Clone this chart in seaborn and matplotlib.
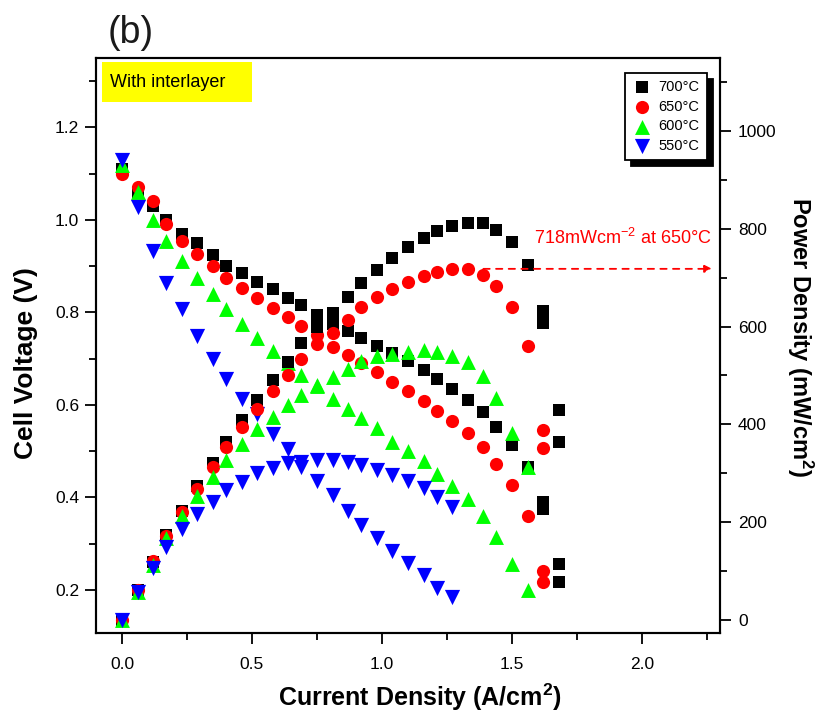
import matplotlib
matplotlib.use("Agg")
import matplotlib.pyplot as plt
from matplotlib.ticker import MultipleLocator, FormatStrFormatter
from matplotlib.patches import Rectangle
import seaborn as sns
import pandas as pd

# current density steps (A/cm2) used in all runs
cd = [0.00, 0.06, 0.12, 0.17, 0.23, 0.29, 0.35, 0.40, 0.46, 0.52,
      0.58, 0.64, 0.69, 0.75, 0.81, 0.87, 0.92, 0.98, 1.04, 1.10,
      1.16, 1.21, 1.27, 1.33, 1.39, 1.44, 1.50, 1.56, 1.62, 1.68]

# 700C  (two readings at the last two steps)
i_700 = cd[:28] + [1.62, 1.62, 1.68, 1.68]
v_700 = [1.11, 1.06, 1.03, 1.00, 0.97, 0.95, 0.925, 0.90, 0.885, 0.865,
         0.85, 0.83, 0.815, 0.795, 0.775, 0.76, 0.745, 0.728, 0.712, 0.695,
         0.675, 0.656, 0.634, 0.61, 0.585, 0.552, 0.514, 0.465,
         0.39, 0.375, 0.256, 0.217]
p_700 = [0, 61, 119, 173, 224, 274, 321, 365, 409, 450,
         491, 528, 566, 600, 628, 660, 689, 716, 740, 763,
         781, 796, 806, 812, 812, 798, 773, 726,
         631, 607, 429, 364]

# 650C
i_650 = cd[:28] + [1.62, 1.62]
v_650 = [1.10, 1.07, 1.04, 0.99, 0.955, 0.927, 0.90, 0.875, 0.853, 0.83,
         0.81, 0.79, 0.77, 0.75, 0.725, 0.707, 0.69, 0.67, 0.65, 0.63,
         0.608, 0.586, 0.565, 0.54, 0.508, 0.473, 0.426, 0.359,
         0.24, 0.218]
p_650 = [0, 62, 121, 172, 221, 268, 312, 354, 394, 432,
         468, 502, 534, 564, 587, 613, 640, 660, 677, 691,
         703, 712, 718, 718, 705, 683, 640, 560,
         389, 352]

# 600C
i_600 = cd[:28]
v_600 = [1.118, 1.06, 1.00, 0.955, 0.91, 0.875, 0.84, 0.807, 0.775, 0.745,
         0.716, 0.69, 0.665, 0.64, 0.612, 0.59, 0.572, 0.549, 0.52, 0.50,
         0.478, 0.45, 0.424, 0.396, 0.359, 0.315, 0.255, 0.20]
p_600 = [0, 58, 112, 167, 212, 254, 292, 327, 360, 390,
         415, 440, 460, 481, 497, 513, 530, 540, 543, 549,
         552, 547, 540, 527, 498, 455, 383, 312]

# 550C
i_550 = cd[:23]
v_550 = [1.13, 1.027, 0.933, 0.864, 0.807, 0.749, 0.70, 0.655, 0.612, 0.58,
         0.537, 0.505, 0.466, 0.435, 0.404, 0.37, 0.341, 0.313, 0.285, 0.258,
         0.233, 0.205, 0.185]
p_550 = [0, 57, 107, 150, 187, 216, 242, 265, 283, 301,
         311, 321, 323, 327, 327, 323, 317, 307, 296, 284,
         270, 251, 231]

labels = ["700°C", "650°C", "600°C", "550°C"]
colors = ["black", "red", "#00ff00", "blue"]
markers = ["s", "o", "^", "v"]
sizes = [85, 90, 115, 120]

peak_power = 718
arrow_from, arrow_to = 1.39, 2.27

runs = [(i_700, v_700, p_700), (i_650, v_650, p_650),
        (i_600, v_600, p_600), (i_550, v_550, p_550)]

sns.set_style("ticks")
plt.rcParams["font.family"] = ["Liberation Sans", "DejaVu Sans"]
plt.rcParams["mathtext.default"] = "regular"
plt.rcParams["text.color"] = "black"
plt.rcParams["axes.labelcolor"] = "black"
plt.rcParams["xtick.color"] = "black"
plt.rcParams["ytick.color"] = "black"

fig = plt.figure(figsize=(8.19, 7.17), dpi=100)
ax = fig.add_axes([96 / 819, 1 - 633.3 / 717, 624 / 819, 575.3 / 717])
ax2 = ax.twinx()

for (cur, volt, powr), lab, col, mk, sz in zip(runs, labels, colors, markers, sizes):
    df = pd.DataFrame({"cd": cur, "v": volt, "p": powr})
    sns.scatterplot(data=df, x="cd", y="v", ax=ax, marker=mk, color=col,
                    s=sz, linewidth=0, legend=False, label=lab)
    sns.scatterplot(data=df, x="cd", y="p", ax=ax2, marker=mk, color=col,
                    s=sz, linewidth=0, legend=False)

ax.set_xlim(-0.1, 2.3)
ax.set_ylim(0.106, 1.35)
ax2.set_ylim(-27, 1149)
ax.set_xlabel("")
ax.set_ylabel("")
ax2.set_ylabel("")

ax.xaxis.set_major_locator(MultipleLocator(0.5))
ax.xaxis.set_minor_locator(MultipleLocator(0.25))
ax.xaxis.set_major_formatter(FormatStrFormatter("%.1f"))
ax.yaxis.set_major_locator(MultipleLocator(0.2))
ax.yaxis.set_minor_locator(MultipleLocator(0.1))
ax.yaxis.set_major_formatter(FormatStrFormatter("%.1f"))
ax2.yaxis.set_major_locator(MultipleLocator(200))
ax2.yaxis.set_minor_locator(MultipleLocator(100))

ax.tick_params(axis="both", which="major", direction="out", length=8, width=1.3,
               labelsize=12.5, color="black", labelcolor="black")
ax.tick_params(axis="both", which="minor", direction="out", length=5, width=1.3,
               color="black")
ax.tick_params(axis="x", which="major", pad=9)
ax.tick_params(axis="y", which="major", pad=4)
ax2.tick_params(axis="y", which="major", direction="out", length=8, width=1.3,
                labelsize=12.5, pad=5, color="black", labelcolor="black")
ax2.tick_params(axis="y", which="minor", direction="out", length=5, width=1.3,
                color="black")
for a in (ax, ax2):
    for sp in a.spines.values():
        sp.set_linewidth(1.5)
        sp.set_color("black")

# yellow "With interlayer" tag
ax.add_patch(Rectangle((0.0096, 0.9235), 0.2404, 0.0695, transform=ax.transAxes,
                       facecolor="#ffff00", edgecolor="none", zorder=5))
ax.text(0.0224, 0.958, "With interlayer", transform=ax.transAxes, fontsize=13,
        ha="left", va="center", zorder=6)

# peak power marker line and note
ax2.annotate("", xy=(arrow_to, peak_power), xytext=(arrow_from, peak_power),
             arrowprops=dict(arrowstyle="-|>", color="red", lw=1.3,
                             linestyle=(0, (3.5, 3.5)), mutation_scale=11,
                             shrinkA=0, shrinkB=0))
ax2.text(1.585, 781, "718mWcm$^{-2}$ at 650°C", color="red", fontsize=13,
         ha="left", va="center")

handles = ax.collections[:4]
leg = ax2.legend(handles, labels, loc="upper right",
                 bbox_to_anchor=(707 / 819, 1 - 73 / 717),
                 bbox_transform=fig.transFigure, fontsize=10.5, frameon=True,
                 fancybox=False, edgecolor="black", framealpha=1,
                 shadow={"ox": 4, "oy": -4, "facecolor": "black",
                         "edgecolor": "black", "alpha": 1},
                 handletextpad=0.5, handlelength=1.3, borderpad=0.5,
                 labelspacing=0.38, borderaxespad=0)
leg.get_frame().set_linewidth(1.3)

fig.text(108 / 819, 1 - 33 / 717, "(b)", fontsize=27, color="#1a1a1a",
         ha="left", va="center")
fig.text(420 / 819, 1 - 697 / 717, "Current Density (A/cm$^2$)", fontsize=18,
         fontweight="bold", ha="center", va="center")
fig.text(26 / 819, 1 - 363 / 717, "Cell Voltage (V)", fontsize=19,
         fontweight="bold", ha="center", va="center", rotation=90)
fig.text(800 / 819, 1 - 337 / 717, "Power Density (mW/cm$^2$)", fontsize=17,
         fontweight="bold", ha="center", va="center", rotation=270)

fig.savefig("out.png", dpi=100)
